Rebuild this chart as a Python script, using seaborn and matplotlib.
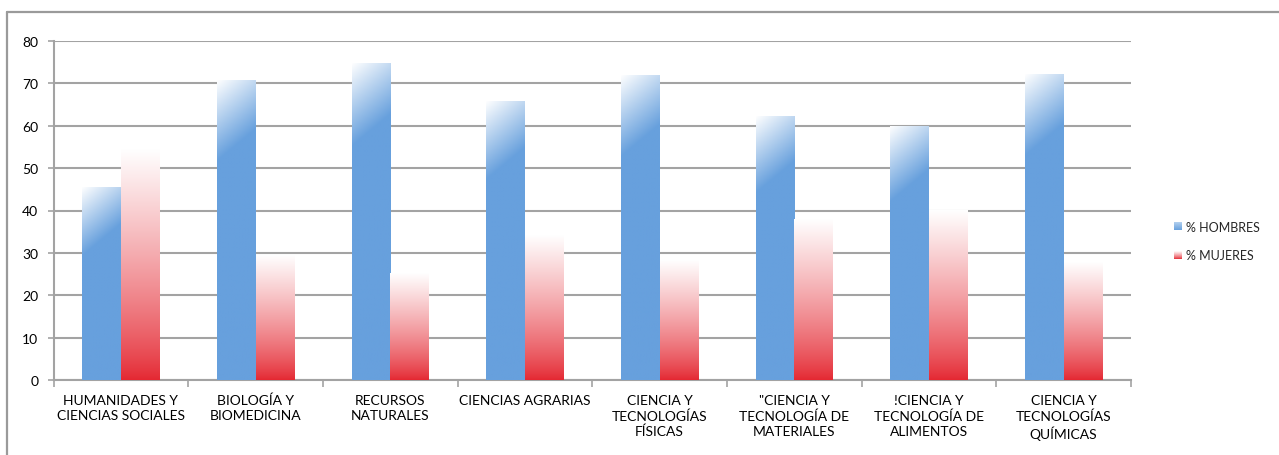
import numpy as np
import pandas as pd
import matplotlib
matplotlib.use("Agg")
import matplotlib.pyplot as plt
import seaborn as sns
from matplotlib.legend_handler import HandlerBase
from matplotlib.patches import Rectangle, Patch
from matplotlib.lines import Line2D

categories = [
    "HUMANIDADES Y\nCIENCIAS SOCIALES",
    "BIOLOGÍA Y\nBIOMEDICINA",
    "RECURSOS\nNATURALES",
    "CIENCIAS AGRARIAS",
    "CIENCIA Y\nTECNOLOGÍAS\nFÍSICAS",
    "\"CIENCIA Y\nTECNOLOGÍA DE\nMATERIALES",
    "!CIENCIA Y\nTECNOLOGÍA DE\nALIMENTOS",
    "CIENCIA Y\nTECNOLOGÍAS\nQUÍMICAS",
]
hombres = [45.5, 70.7, 74.8, 65.8, 71.8, 62.2, 59.9, 72.2]
mujeres = [54.5, 29.3, 25.2, 34.2, 28.2, 37.8, 40.1, 27.8]
series_names = ["% HOMBRES", "% MUJERES"]
yticks = [0, 10, 20, 30, 40, 50, 60, 70, 80]

BLUE = np.array([103, 160, 221]) / 255.0
RED = np.array([228, 38, 48]) / 255.0
WHITE = np.array([1.0, 1.0, 1.0])
GRID = "#a3a3a3"

df = pd.DataFrame({
    "cat": categories * 2,
    "val": hombres + mujeres,
    "serie": [series_names[0]] * len(categories) + [series_names[1]] * len(categories),
})

sns.set_theme(style="white")
plt.rcParams["font.family"] = ["Lato", "DejaVu Sans"]

W, H = 1279, 456
fig = plt.figure(figsize=(W / 100, H / 100), dpi=100)
ax_left, ax_right, ax_top, ax_bot = 53.5, 1131, 42, 381
ax = fig.add_axes([ax_left / W, 1 - ax_bot / H, (ax_right - ax_left) / W, (ax_bot - ax_top) / H])

sns.barplot(data=df, x="cat", y="val", hue="serie", order=categories,
            hue_order=series_names, palette=["#67a0dd", "#e4262f"],
            width=0.572, gap=0, ax=ax, legend=False, errorbar=None,
            saturation=1, linewidth=0)

ax.set_xlim(-0.5, len(categories) - 0.5)
ax.set_ylim(0, 80)

px_x = (ax_right - ax_left) / len(categories)
px_y = (ax_bot - ax_top) / 80.0


def blue_grad(wpx, hpx):
    ny = max(int(hpx), 2)
    nx = max(int(wpx), 2)
    yy = (np.arange(ny) + 0.5)[:, None]
    xx = (np.arange(nx) + 0.5)[None, :]
    L = 47 + 0.113 * hpx
    t = np.clip((yy + 0.85 * xx) / L, 0, 1)
    img = WHITE[None, None, :] * (1 - t[..., None]) + BLUE[None, None, :] * t[..., None]
    return img


def red_grad(wpx, hpx):
    ny = max(int(hpx), 2)
    yy = (np.arange(ny) + 0.5)[:, None] / ny  # 0 top -> 1 bottom
    f = 1 - yy  # fraction from bottom
    s = f ** 0.8
    img = RED[None, None, :] * (1 - s[..., None]) + WHITE[None, None, :] * s[..., None]
    img = np.repeat(img, 4, axis=1)
    return img


for ci, cont in enumerate(ax.containers):
    for bar in cont:
        x0 = bar.get_x()
        w = bar.get_width()
        h = bar.get_height()
        bar.set_alpha(0)
        wpx, hpx = w * px_x, h * px_y
        img = blue_grad(wpx, hpx) if ci == 0 else red_grad(wpx, hpx)
        ax.imshow(img, extent=(x0, x0 + w, 0, h), aspect="auto",
                  interpolation="bilinear", zorder=3, origin="upper")

ax.set_xlim(-0.5, len(categories) - 0.5)
ax.set_ylim(0, 80)
ax.set_yticks(yticks)
ax.yaxis.grid(True, color=GRID, linewidth=1.5, zorder=0)
ax.set_axisbelow(True)
ax.set_xlabel("")
ax.set_ylabel("")
for s in ["top", "right"]:
    ax.spines[s].set_visible(False)
for s in ["left", "bottom"]:
    ax.spines[s].set_color(GRID)
    ax.spines[s].set_linewidth(1.5)

ax.tick_params(axis="y", which="major", length=4, width=1.2, color=GRID,
               pad=7, labelsize=10, labelcolor="#000000", left=True)
ax.set_xticks(range(len(categories)))
ax.set_xticklabels(categories, fontsize=10, linespacing=1.3, va="top")
ax.tick_params(axis="x", which="major", length=0, pad=10, labelcolor="#000000")
ax.set_xticks(np.arange(-0.5, len(categories), 1.0), minor=True)
ax.tick_params(axis="x", which="minor", length=5, width=1.2, color=GRID, bottom=True)


class GradHandler(HandlerBase):
    def __init__(self, kind):
        super().__init__()
        self.kind = kind

    def create_artists(self, legend, orig_handle, xdescent, ydescent, width,
                       height, fontsize, trans):
        arts = []
        n = 8
        for i in range(n):
            f = (i + 0.5) / n  # 0 bottom -> 1 top
            if self.kind == 0:
                col = BLUE * (1 - f * 0.5) + WHITE * f * 0.5
            else:
                s = f ** 0.8
                col = RED * (1 - s) + WHITE * s
            r = Rectangle((-xdescent, -ydescent + i * height / n), width,
                          height / n, facecolor=col, edgecolor="none",
                          transform=trans)
            arts.append(r)
        return arts


h0 = Patch(label=series_names[0])
h1 = Patch(label=series_names[1])
leg = fig.legend(handles=[h0, h1], labels=series_names,
                 handler_map={h0: GradHandler(0), h1: GradHandler(1)},
                 loc="center left", bbox_to_anchor=(1174 / W, 1 - 242 / H),
                 frameon=False, fontsize=9, handlelength=0.65, handleheight=0.65,
                 handletextpad=0.35, labelspacing=1.35, borderpad=0,
                 borderaxespad=0)

# outer frame
fig.add_artist(Line2D([7 / W, 7 / W], [0, 1 - 13 / H], color="#9a9a9a",
                      linewidth=1.6, transform=fig.transFigure))
fig.add_artist(Line2D([7 / W, 1], [1 - 13 / H, 1 - 13 / H], color="#9a9a9a",
                      linewidth=1.6, transform=fig.transFigure))

fig.savefig("out.png", dpi=100)
